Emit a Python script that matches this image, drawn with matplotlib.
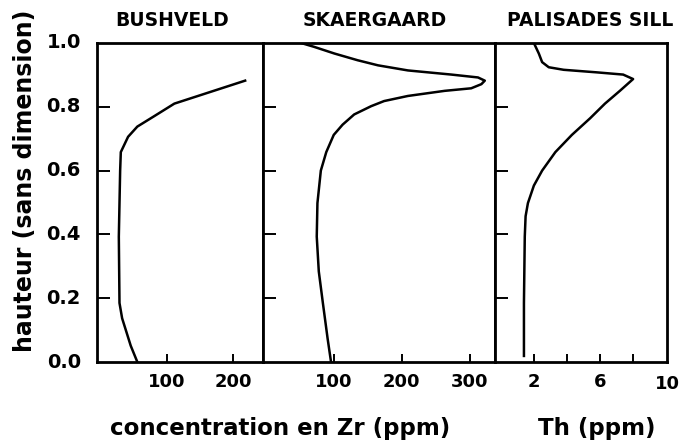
import numpy as np
import matplotlib
matplotlib.use("Agg")
import matplotlib.pyplot as plt

# hauteur (sans dimension) / concentration
bush_h = [0.0, 0.051, 0.137, 0.185, 0.393, 0.60, 0.658, 0.706, 0.738, 0.77, 0.81, 0.882]
bush_zr = [55, 45, 32, 28, 27, 29, 30, 41, 55, 80, 111, 218]

skae_h = [0.0, 0.073, 0.185, 0.284, 0.393, 0.498, 0.60, 0.658, 0.712, 0.744, 0.776,
          0.802, 0.818, 0.834, 0.85, 0.858, 0.871, 0.882, 0.892, 0.901, 0.914, 0.93,
          0.946, 0.967, 0.988, 1.0]
skae_zr = [96, 91, 84, 78, 75, 76, 81, 89, 100, 113, 130,
           155, 174, 209, 263, 302, 317, 322, 312, 273, 209, 165,
           135, 101, 71, 52]

pal_h = [0.019, 0.185, 0.393, 0.457, 0.498, 0.553, 0.60, 0.658, 0.712, 0.764, 0.81,
         0.85, 0.887, 0.901, 0.908, 0.916, 0.924, 0.94, 0.967, 1.0]
pal_th = [1.4, 1.4, 1.45, 1.5, 1.64, 2.0, 2.5, 3.3, 4.3, 5.4, 6.3,
          7.2, 8.0, 7.4, 5.8, 3.8, 2.9, 2.5, 2.3, 2.0]

titles = ["BUSHVELD", "SKAERGAARD", "PALISADES SILL"]
yticks = [0.0, 0.2, 0.4, 0.6, 0.8, 1.0]

W, H = 685, 448
fig = plt.figure(figsize=(W / 100, H / 100), dpi=100)

def box(x0, x1, y0=43, y1=362):
    return [x0 / W, 1 - y1 / H, (x1 - x0) / W, (y1 - y0) / H]

ax1 = fig.add_axes(box(97, 263))
ax2 = fig.add_axes(box(263, 495))
ax3 = fig.add_axes(box(495, 667))

ax1.plot(bush_zr, bush_h, color="black", lw=1.8)
ax2.plot(skae_zr, skae_h, color="black", lw=1.8)
ax3.plot(pal_th, pal_h, color="black", lw=1.8)

ax1.set_xlim(-6, 245)
ax2.set_xlim(-4, 337)
ax3.set_xlim(-0.35, 10.05)

ax1.set_xticks([100, 200])
ax2.set_xticks([100, 200, 300])
ax3.set_xticks([2, 4, 6, 8])
ax3.set_xticklabels(["2", "", "6", ""])

for i, ax in enumerate([ax1, ax2, ax3]):
    ax.set_ylim(0, 1.0)
    ax.set_yticks(yticks[1:-1])
    ax.tick_params(axis="y", direction="in", length=9, width=1.4, labelleft=False)
    ax.tick_params(axis="x", direction="in", length=6, width=1.4, labelsize=13, pad=8)
    for lab in ax.get_xticklabels():
        lab.set_fontweight("bold")
    for s in ax.spines.values():
        s.set_linewidth(2)

# "10" sits at the right edge of the last panel
ax3.text(10.05, -0.04, "10", ha="center", va="top", fontsize=13, fontweight="bold",
         transform=ax3.get_xaxis_transform())

for v in yticks:
    ax1.text(-0.2, v, "%.1f" % v, ha="center", va="center", fontsize=14,
             fontweight="bold", transform=ax1.get_yaxis_transform())

for t, xc in zip(titles, [172, 375, 590]):
    fig.text(xc / W, 1 - 21 / H, t, ha="center", va="center", fontsize=13.5,
             fontweight="bold")

fig.text(25 / W, 1 - 181 / H, "hauteur (sans dimension)", rotation=90, ha="center",
         va="center", fontsize=17, fontweight="bold")
fig.text(280 / W, 1 - 428 / H, "concentration en Zr (ppm)", ha="center", va="center",
         fontsize=16.5, fontweight="bold")
fig.text(597 / W, 1 - 428 / H, "Th (ppm)", ha="center", va="center",
         fontsize=16.5, fontweight="bold")

fig.savefig("out.png", dpi=100)
